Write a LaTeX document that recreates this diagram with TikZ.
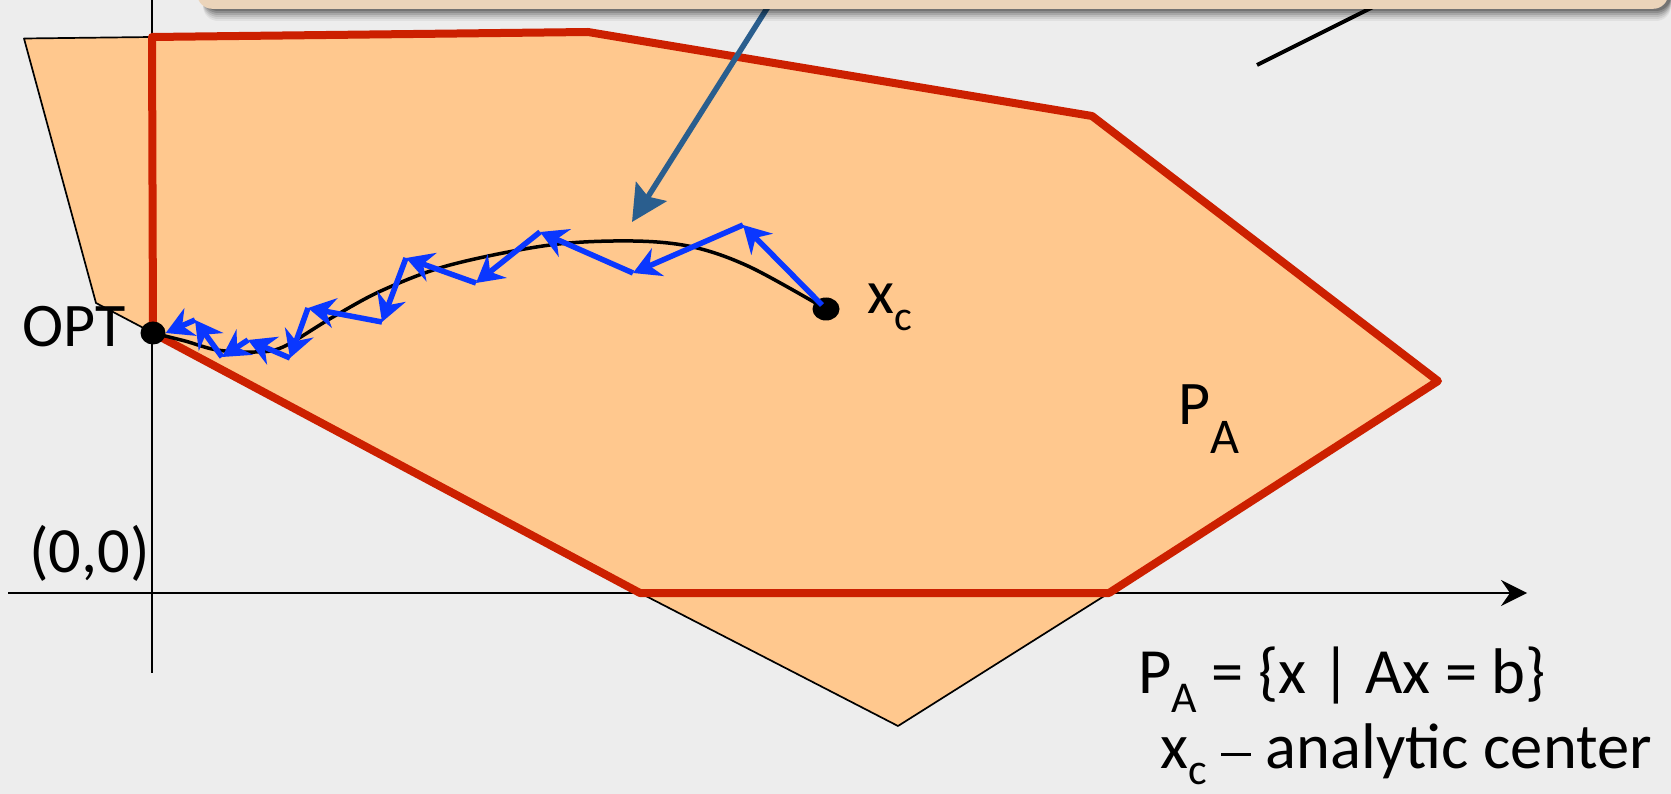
\documentclass[tikz,border=0pt]{standalone}
\usepackage{fontspec}
\setmainfont{Carlito}
\usetikzlibrary{arrows.meta,shapes.geometric}
\definecolor{bgc}{RGB}{237,237,237}
\definecolor{fillc}{RGB}{255,200,142}
\definecolor{redc}{RGB}{204,32,0}
\definecolor{bluec}{RGB}{10,55,255}
\definecolor{steelc}{RGB}{42,94,142}
\definecolor{boxc}{RGB}{235,212,186}
\newcommand{\bigf}{\fontsize{62}{70}\selectfont}
\newcommand{\largerlbl}{\fontsize{64.5}{70}\selectfont}
\newcommand{\subf}{\fontsize{42}{46}\selectfont}
\newcommand{\mydash}{\rule[12pt]{30pt}{3.5pt}}
\tikzset{
  thinline/.style={black, line width=1.7pt, line join=round},
  axis/.style={black, line width=2pt},
  redpoly/.style={redc, line width=8pt, line join=round},
  curveline/.style={black, line width=3.5pt},
  zz/.style={bluec, line width=5.5pt, -{Stealth[length=27pt,width=30pt,inset=9pt]}},
  pointer/.style={steelc, line width=5.5pt, -{Stealth[length=36pt,width=36pt,inset=6pt]}},
  dot/.style={ellipse, fill=black, inner sep=0pt},
  lbl/.style={inner sep=0pt, font=\bigf, text=black},
  callout/.style={rectangle, rounded corners=15pt, fill=boxc, inner sep=0pt}
}
\begin{document}
\begin{tikzpicture}[x=1pt,y=-1pt]
\useasboundingbox (0,0) rectangle (1671,794);
\clip (0,0) rectangle (1671,794);
\fill[bgc] (0,0) rectangle (1671,794);
% axes
\coordinate (yaxtop) at (152,0);
\coordinate (yaxbot) at (152,673);
\coordinate (xaxl) at (8,593);
\coordinate (xaxr) at (1527,593);
\draw[axis] (yaxtop) -- (yaxbot);
\draw[axis, -{Stealth[length=26pt,width=26pt,inset=9pt]}] (xaxl) -- (xaxr);
% polygon vertices
\coordinate (v1) at (24,38.5);
\coordinate (v2) at (152,37);
\coordinate (v3) at (588,32);
\coordinate (v4) at (1092,116);
\coordinate (v5) at (1438,381);
\coordinate (v6) at (1109,593);
\coordinate (v7) at (898,726);
\coordinate (v8) at (640,593);
\coordinate (v9) at (153,333);
\coordinate (v10) at (96,303);
\fill[fillc] (v1) -- (v2) -- (v3) -- (v4) -- (v5) -- (v6) -- (v7) -- (v8) -- (v9) -- (v10) -- cycle;
\draw[thinline] (v2) -- (v1) -- (v10) -- (v9);
\draw[thinline] (v8) -- (v7) -- (v6);
\draw[redpoly] (v9) -- (v2) -- (v3) -- (v4) -- (v5) -- (v6) -- (v8) -- cycle;
% dots
\node[dot, minimum width=25pt, minimum height=23pt] (opt) at (153,333) {};
\node[dot, minimum width=27pt, minimum height=23pt] (xc) at (826,309) {};
% central path
\draw[curveline] plot[smooth, tension=0.55] coordinates {(opt.center) (185,341) (217,350) (255,352) (283,347) (333,317) (383,290) (450,265) (550,245) (633,241) (693,247) (750,267) (xc.center)};
% zigzag
\coordinate (p0) at (822,305);
\coordinate (p1) at (743,225);
\coordinate (p2) at (633,273);
\coordinate (p3) at (540,232);
\coordinate (p4) at (476,283);
\coordinate (p5) at (406,258);
\coordinate (p6) at (382,322);
\coordinate (p7) at (308,308);
\coordinate (p8) at (290,358);
\coordinate (p9) at (248,340);
\coordinate (p10) at (222,357);
\coordinate (p11) at (195,320);
\draw[zz] (p0) -- (p1);
\draw[zz] (p1) -- (p2);
\draw[zz] (p2) -- (p3);
\draw[zz] (p3) -- (p4);
\draw[zz] (p4) -- (p5);
\draw[zz] (p5) -- (p6);
\draw[zz] (p6) -- (p7);
\draw[zz] (p7) -- (p8);
\draw[zz] (p8) -- (p9);
\draw[zz] (p9) -- (p10);
\draw[zz] (p10) -- (p11);
\draw[zz] (p11) -- (opt.east);
% pointer and line from callout
\coordinate (pstart) at (771,2);
\coordinate (ptip) at (632,222);
\draw[pointer] (pstart) -- (ptip);
\coordinate (lstart) at (1373,7);
\coordinate (lend) at (1257,65);
\draw[black, line width=4pt] (lstart) -- (lend);
% callout shadow and box
\foreach \d/\o in {12/0.05,10/0.07,8/0.09,6/0.12,4/0.15,2/0.18}{
  \fill[black, opacity=\o, rounded corners=15pt] (203,-80) rectangle (1671,9+\d);
}
\node[callout, anchor=south west, minimum width=1471pt, minimum height=90pt] (callout) at (197,9) {};
% labels
\node[lbl, anchor=base west] (optlbl) at (22,347) {OPT};
\node[lbl, anchor=base west] (xclbl) at (867,314) {x\raisebox{-17pt}{\subf c}};
\node[lbl, anchor=base west, font=\largerlbl] (origin) at (29,572) {(0,0)};
\node[lbl, anchor=base west] (palbl) at (1178,424) {P\raisebox{-29pt}{\fontsize{50}{50}\selectfont A}};
\node[lbl, anchor=base west, font=\largerlbl] (def1) at (1138,693) {P\raisebox{-19pt}{\fontsize{44}{46}\selectfont A} = \{x | Ax = b\}};
\node[lbl, anchor=base west, font=\largerlbl] (def2) at (1160,768) {x\raisebox{-16pt}{\fontsize{44}{46}\selectfont c} \mydash{} analytic center};
\end{tikzpicture}
\end{document}
